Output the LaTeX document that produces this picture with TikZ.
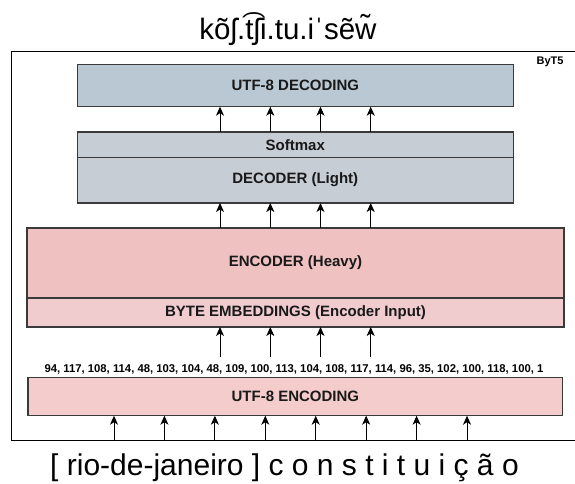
\documentclass[tikz,border=0pt]{standalone}
\usepackage{fontspec}
\setmainfont{Liberation Sans}
\usetikzlibrary{arrows.meta}
\definecolor{decfill}{HTML}{BAC8D3}
\definecolor{dcrfill}{HTML}{C6CDD5}
\definecolor{encfill}{HTML}{F0C1C1}
\definecolor{embfill}{HTML}{F0CCCF}
\definecolor{utffill}{HTML}{F5CCCC}
\definecolor{boxline}{HTML}{3A3A3A}
\begin{document}
\begin{tikzpicture}[x=1pt,y=-1pt,
  box/.style={draw=boxline, line width=1.3pt, inner sep=0pt, outer sep=0pt,
    font=\fontsize{15}{17}\selectfont\bfseries, text=black!90},
  arr/.style={-{Stealth[length=9pt,width=8pt,inset=2.5pt]}, line width=1pt},
  numfont/.style={font=\fontsize{11.3}{13}\selectfont\bfseries, inner sep=0pt}]
\useasboundingbox (0,0) rectangle (575,484);
% outer frame
\node[draw=black, line width=1.3pt, inner sep=0pt, minimum width=578.5pt, minimum height=389pt] (frame) at (300.75,245.8) {};
\node[font=\fontsize{11}{13}\selectfont\bfseries, inner sep=0pt] (byt) at (550,62) {ByT5};
% title and input
\node[font=\fontsize{29.5}{34}\selectfont, anchor=base, inner sep=0pt] (title) at (288,40) {kõʃ.t͡ʃi.tu.iˈsẽw̃};
\node[font=\fontsize{30}{34}\selectfont, anchor=base, inner sep=0pt] (input) at (284.5,475) {[ rio-de-janeiro ] c o n s t i t u i ç ã o};
% boxes
\node[box, fill=decfill, minimum width=436pt, minimum height=42pt] (decoding) at (295.3,85.7) {UTF-8 DECODING};
\node[box, fill=dcrfill, minimum width=436pt, minimum height=25.3pt] (softmax) at (295.3,144.65) {Softmax};
\node[box, fill=dcrfill, minimum width=436pt, minimum height=45.7pt] (decoder) at (295.3,180.15) {DECODER (Light)};
\node[box, fill=encfill, minimum width=537pt, minimum height=70pt] (encoder) at (295.5,263) {ENCODER (Heavy)};
\node[box, fill=embfill, minimum width=537pt, minimum height=29pt] (embed) at (295.5,312.5) {BYTE EMBEDDINGS (Encoder Input)};
\node[box, fill=utffill, minimum width=534.7pt, minimum height=38pt] (encoding) at (295.35,396.7) {UTF-8 ENCODING};
\node[numfont] (nums) at (294,369) {94, 117, 108, 114, 48, 103, 104, 48, 109, 100, 113, 104, 108, 117, 114, 96, 35, 102, 100, 118, 100, 1};
\coordinate (numtop) at (0,357);
% upper arrow columns
\foreach \i/\x in {1/220,2/270.3,3/320.5,4/370.7}{
  \coordinate (u\i) at (\x,0);
  \draw[arr] (softmax.north -| u\i) -- (decoding.south -| u\i);
  \draw[arr] (encoder.north -| u\i) -- (decoder.south -| u\i);
  \draw[arr] (numtop -| u\i) -- (embed.south -| u\i);
}
% lower arrow columns
\foreach \i in {0,...,7}{
  \coordinate (b\i) at (114+50.43*\i,0);
  \draw[arr] (frame.south -| b\i) -- (encoding.south -| b\i);
}
\end{tikzpicture}
\end{document}
